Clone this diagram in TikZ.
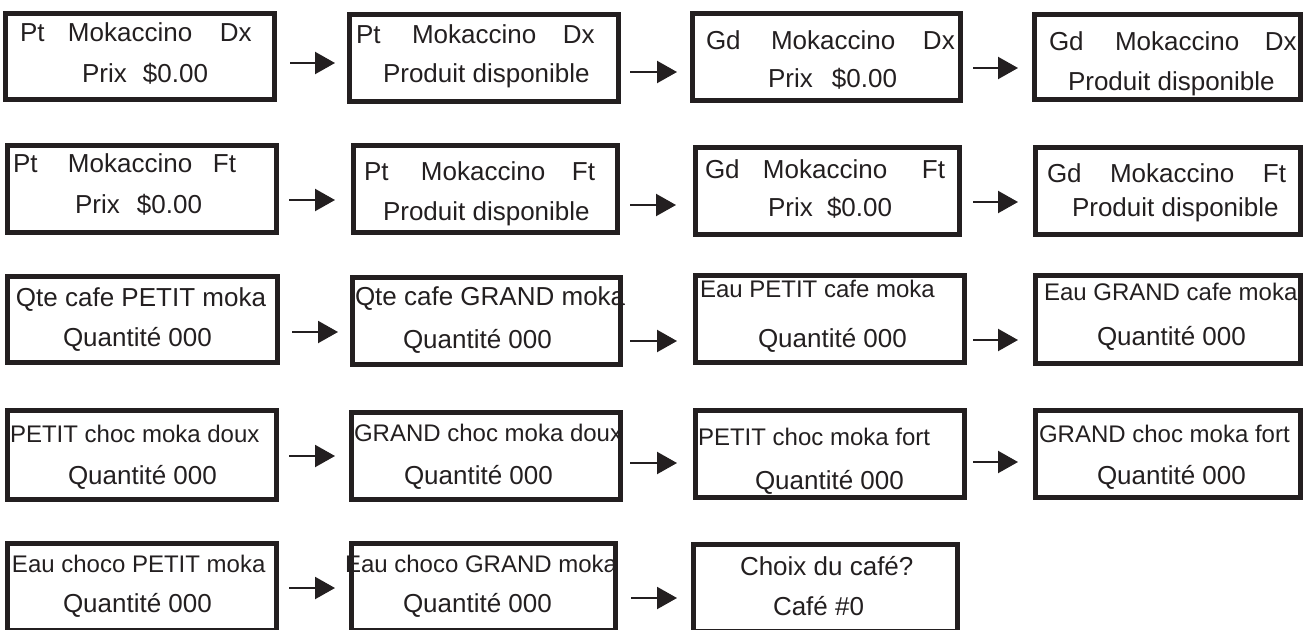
\documentclass[tikz,border=0pt]{standalone}
\usepackage{fontspec}
\setmainfont{Liberation Sans}
\usetikzlibrary{arrows.meta}
\definecolor{lcdblack}{HTML}{231F20}
\newcommand\lcdthree[5]{\rlap{#1}\hspace*{#2pt}\rlap{#3}\hspace*{#4pt}#5}
\newcommand\lcdtwo[3]{\rlap{#1}\hspace*{#2pt}#3}
\begin{document}
\begin{tikzpicture}[x=1pt,y=-1pt,
  lcdbox/.style={draw=lcdblack, line width=5pt, inner sep=0pt, outer sep=0pt, rectangle},
  txt/.style={anchor=base west, inner sep=0pt, outer sep=0pt, text=lcdblack, font=\fontsize{26}{30}\selectfont},
  txts/.style={txt, font=\fontsize{24}{28}\selectfont},
  arr/.style={draw=lcdblack, line width=2.2pt, -{Triangle[length=20pt,width=22pt]}}]
\useasboundingbox (0,0) rectangle (1303,629);
% ---------- texts ----------
% row 1
\node[txt] (t11a) at (20,41) {\lcdthree{Pt}{48}{Mokaccino}{152}{Dx}};
\node[txt] (t11b) at (82,82) {\lcdtwo{Prix}{61}{\$0.00}};
\node[txt] (t12a) at (356,43) {\lcdthree{Pt}{56}{Mokaccino}{151}{Dx}};
\node[txt] (t12b) at (383,82) {Produit disponible};
\node[txt] (t13a) at (706,49) {\lcdthree{Gd}{65}{Mokaccino}{152}{Dx}};
\node[txt] (t13b) at (768,87) {\lcdtwo{Prix}{64}{\$0.00}};
\node[txt] (t14a) at (1049,50) {\lcdthree{Gd}{66}{Mokaccino}{150}{Dx}};
\node[txt] (t14b) at (1068,90) {Produit disponible};
% row 2
\node[txt] (t21a) at (13,172) {\lcdthree{Pt}{55}{Mokaccino}{145}{Ft}};
\node[txt] (t21b) at (75,213) {\lcdtwo{Prix}{62}{\$0.00}};
\node[txt] (t22a) at (364,180) {\lcdthree{Pt}{57}{Mokaccino}{151}{Ft}};
\node[txt] (t22b) at (383,220) {Produit disponible};
\node[txt] (t23a) at (705,178) {\lcdthree{Gd}{58}{Mokaccino}{159}{Ft}};
\node[txt] (t23b) at (768,216) {\lcdtwo{Prix}{59}{\$0.00}};
\node[txt] (t24a) at (1047,182) {\lcdthree{Gd}{63}{Mokaccino}{153}{Ft}};
\node[txt] (t24b) at (1072,216) {Produit disponible};
% row 3
\node[txt] (t31a) at (16,306) {Qte cafe PETIT moka};
\node[txt] (t31b) at (63,346) {Quantité 000};
\node[txt] (t32a) at (355,305) {Qte cafe GRAND moka};
\node[txt] (t32b) at (403,348) {Quantité 000};
\node[txts] (t33a) at (700,297) {Eau PETIT cafe moka};
\node[txt] (t33b) at (758,347) {Quantité 000};
\node[txts] (t34a) at (1044,300) {Eau GRAND cafe moka};
\node[txt] (t34b) at (1097,345) {Quantité 000};
% row 4
\node[txts] (t41a) at (10,442) {PETIT choc moka doux};
\node[txt] (t41b) at (68,484) {Quantité 000};
\node[txts] (t42a) at (354,441) {GRAND choc moka doux};
\node[txt] (t42b) at (404,484) {Quantité 000};
\node[txts] (t43a) at (698,445) {PETIT choc moka fort};
\node[txt] (t43b) at (755,489) {Quantité 000};
\node[txts] (t44a) at (1039,442) {GRAND choc moka fort};
\node[txt] (t44b) at (1097,484) {Quantité 000};
% row 5
\node[txts] (t51a) at (12,572) {Eau choco PETIT moka};
\node[txt] (t51b) at (63,612) {Quantité 000};
\node[txts] (t52a) at (345,572) {Eau choco GRAND moka};
\node[txt] (t52b) at (403,612) {Quantité 000};
\node[txt] (t53a) at (740,575) {Choix du café?};
\node[txt] (t53b) at (773,615) {Café \#0};
% ---------- boxes ----------
\node[lcdbox, minimum width=269pt, minimum height=86pt] (b11) at (140,56.5) {};
\node[lcdbox, minimum width=269pt, minimum height=87pt] (b12) at (484,58) {};
\node[lcdbox, minimum width=268pt, minimum height=87pt] (b13) at (826.5,57) {};
\node[lcdbox, minimum width=266pt, minimum height=85pt] (b14) at (1167.5,57) {};
\node[lcdbox, minimum width=269pt, minimum height=87pt] (b21) at (142,189) {};
\node[lcdbox, minimum width=264pt, minimum height=87pt] (b22) at (485.5,189) {};
\node[lcdbox, minimum width=264pt, minimum height=87pt] (b23) at (827.5,191) {};
\node[lcdbox, minimum width=265pt, minimum height=87pt] (b24) at (1168,191) {};
\node[lcdbox, minimum width=270pt, minimum height=86pt] (b31) at (142.5,319.5) {};
\node[lcdbox, minimum width=268pt, minimum height=87pt] (b32) at (486.5,321) {};
\node[lcdbox, minimum width=269pt, minimum height=87pt] (b33) at (830,319) {};
\node[lcdbox, minimum width=265pt, minimum height=88pt] (b34) at (1168,319.5) {};
\node[lcdbox, minimum width=269pt, minimum height=89pt] (b41) at (142,455) {};
\node[lcdbox, minimum width=269pt, minimum height=87pt] (b42) at (486,456) {};
\node[lcdbox, minimum width=269pt, minimum height=87pt] (b43) at (830,454) {};
\node[lcdbox, minimum width=265pt, minimum height=87pt] (b44) at (1168,454) {};
\node[lcdbox, minimum width=269pt, minimum height=87pt] (b51) at (142,587) {};
\node[lcdbox, minimum width=264pt, minimum height=87pt] (b52) at (483.5,587) {};
\node[lcdbox, minimum width=264pt, minimum height=87pt] (b53) at (825.5,588) {};
% ---------- arrows ----------
\draw[arr] ([shift={(15.5,6.5)}]b11.east) -- ([shift={(-14.5,5)}]b12.west);
\draw[arr] ([shift={(11.5,14)}]b12.east) -- ([shift={(-15.5,15)}]b13.west);
\draw[arr] ([shift={(12.5,11)}]b13.east) -- ([shift={(-16.5,11)}]b14.west);
\draw[arr] ([shift={(12.5,11)}]b21.east) -- ([shift={(-18.5,11)}]b22.west);
\draw[arr] ([shift={(12.5,16)}]b22.east) -- ([shift={(-19.5,14)}]b23.west);
\draw[arr] ([shift={(13.5,11)}]b23.east) -- ([shift={(-17.5,11)}]b24.west);
\draw[arr] ([shift={(14.5,12.5)}]b31.east) -- ([shift={(-14.5,11)}]b32.west);
\draw[arr] ([shift={(9.5,20)}]b32.east) -- ([shift={(-18.5,22)}]b33.west);
\draw[arr] ([shift={(8.5,21)}]b33.east) -- ([shift={(-17.5,20.5)}]b34.west);
\draw[arr] ([shift={(12.5,1)}]b41.east) -- ([shift={(-16.5,0)}]b42.west);
\draw[arr] ([shift={(9.5,7)}]b42.east) -- ([shift={(-18.5,9)}]b43.west);
\draw[arr] ([shift={(8.5,8)}]b43.east) -- ([shift={(-17.5,8)}]b44.west);
\draw[arr] ([shift={(12.5,1)}]b51.east) -- ([shift={(-16.5,1)}]b52.west);
\draw[arr] ([shift={(15.5,11)}]b52.east) -- ([shift={(-16.5,10)}]b53.west);
\end{tikzpicture}
\end{document}
